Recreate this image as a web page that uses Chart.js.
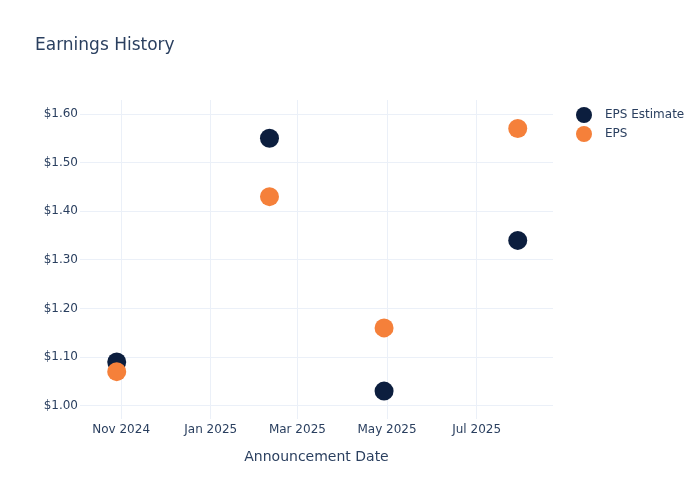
<!DOCTYPE html>
<html>
<head>
<meta charset="utf-8">
<script src="https://cdn.jsdelivr.net/npm/chart.js@4"></script>
<style>
  html, body { margin: 0; padding: 0; background: #fff; }
  #wrap { position: relative; width: 700px; height: 500px; font-family: "DejaVu Sans", sans-serif; color: #2a3f5f; }
  #title { position: absolute; left: 35px; top: 34px; font-size: 17px; line-height: normal; white-space: nowrap; }
  #legend { position: absolute; left: 574px; top: 105px; font-size: 12px; }
  .item { position: relative; height: 19.4px; line-height: 19.4px; padding-left: 31px; white-space: nowrap; }
  .dot { position: absolute; left: 1.5px; top: 2px; width: 16px; height: 16px; border-radius: 50%; }
  canvas { position: absolute; left: 0; top: 0; }
</style>
</head>
<body>
<div id="wrap">
  <canvas id="c" width="700" height="500"></canvas>
  <div id="title">Earnings History</div>
  <div id="legend"></div>
</div>
<script>
const announcementDates = ['2024-10-29', '2025-02-10', '2025-04-29', '2025-07-29'];
const epsEstimate = [1.09, 1.55, 1.03, 1.34];
const epsActual = [1.07, 1.43, 1.16, 1.57];
const seriesNames = ['EPS Estimate', 'EPS'];
const seriesColors = ['#0c1e3e', '#f5803a'];
const xTickDates = ['2024-11-01', '2025-01-01', '2025-03-01', '2025-05-01', '2025-07-01'];
const xTickLabels = ['Nov 2024', 'Jan 2025', 'Mar 2025', 'May 2025', 'Jul 2025'];
const yTicks = [1.00, 1.10, 1.20, 1.30, 1.40, 1.50, 1.60];
const xRange = ['2024-10-04', '2025-08-22'];
const yRange = [0.9726, 1.6288];

const t = s => Date.parse(s + 'T00:00:00Z');
const toPoints = vals => announcementDates.map((d, i) => ({ x: t(d), y: vals[i] }));

const legend = document.getElementById('legend');
seriesNames.forEach((n, i) => {
  const d = document.createElement('div');
  d.className = 'item';
  d.innerHTML = '<span class="dot" style="background:' + seriesColors[i] + '"></span>' + n;
  legend.appendChild(d);
});

const grid = '#ebf0f8';
const tickFont = { family: '"DejaVu Sans", sans-serif', size: 12 };

new Chart(document.getElementById('c'), {
  type: 'scatter',
  data: {
    datasets: [
      { label: seriesNames[0], data: toPoints(epsEstimate), backgroundColor: seriesColors[0], borderColor: seriesColors[0], pointRadius: 9.5, pointHoverRadius: 9.5, borderWidth: 0, order: 1 },
      { label: seriesNames[1], data: toPoints(epsActual), backgroundColor: seriesColors[1], borderColor: seriesColors[1], pointRadius: 9.5, pointHoverRadius: 9.5, borderWidth: 0, order: 0 }
    ]
  },
  options: {
    responsive: false,
    animation: false,
    layout: { padding: { left: 0, top: 100, right: 147, bottom: 34 } },
    plugins: { legend: { display: false }, title: { display: false }, tooltip: { enabled: false } },
    scales: {
      x: {
        type: 'linear',
        min: t(xRange[0]),
        max: t(xRange[1]),
        afterBuildTicks: s => { s.ticks = xTickDates.map(d => ({ value: t(d) })); },
        afterFit: s => { s.height = 47; },
        ticks: {
          callback: (v) => { const i = xTickDates.findIndex(d => t(d) === v); return i >= 0 ? xTickLabels[i] : ''; },
          color: '#2a3f5f', font: tickFont, padding: 4, maxRotation: 0, autoSkip: false
        },
        grid: { color: grid, drawTicks: false, lineWidth: 1 },
        border: { display: false },
        title: { display: true, text: 'Announcement Date', color: '#2a3f5f', font: { family: tickFont.family, size: 14 }, padding: { top: 4, bottom: 0 } }
      },
      y: {
        min: yRange[0],
        max: yRange[1],
        afterBuildTicks: s => { s.ticks = yTicks.map(v => ({ value: v })); },
        afterFit: s => { s.width = 80; },
        ticks: {
          callback: v => '$' + Number(v).toFixed(2),
          color: '#2a3f5f', font: tickFont, padding: 2
        },
        grid: { color: grid, drawTicks: false, lineWidth: 1 },
        border: { display: false }
      }
    }
  }
});
</script>
</body>
</html>
